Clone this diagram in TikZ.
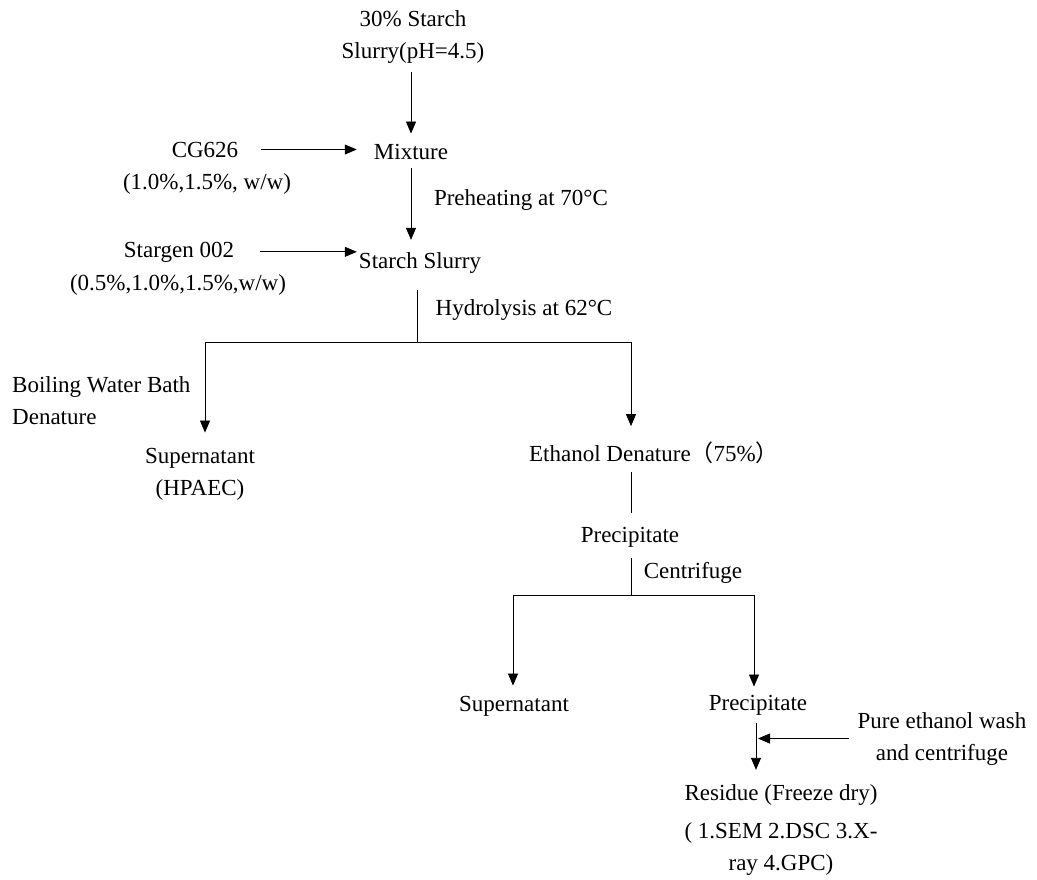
\documentclass[tikz,border=0pt]{standalone}
\usepackage{fontspec}
\setmainfont{Liberation Serif}
\newfontfamily\cjk{Noto Sans CJK SC}
\usetikzlibrary{arrows.meta}
\begin{document}
\begin{tikzpicture}[x=1pt,y=-1pt,
  every node/.style={font=\fontsize{23}{32}\selectfont, inner sep=0pt, align=center, anchor=base},
  line/.style={line width=0.8pt},
  arr/.style={line, -{Triangle[length=12pt,width=10pt]}}]
\useasboundingbox (0,0) rectangle (1037,879);
% nodes (base anchor = baseline of the last line)
\node (s30) at (413,58) {30\% Starch\\Slurry(pH=4.5)};
\node (mix) at (411,159) {Mixture};
\node (cg) at (205,157) {CG626};
\node (cgp) at (207,189) {(1.0\%,1.5\%, w/w)};
\node (pre) at (521,205) {Preheating at 70°C};
\node (ss) at (420,268) {Starch Slurry};
\node (sg) at (179,257) {Stargen 002};
\node (sgp) at (178,290) {(0.5\%,1.0\%,1.5\%,w/w)};
\node (hyd) at (524,315) {Hydrolysis at 62°C};
\node[anchor=base west, align=left] (bw) at (12,424) {Boiling Water Bath\\Denature};
\node (sup1) at (200,495) {Supernatant\\(HPAEC)};
\node (eth) at (654,461) {Ethanol Denature{\cjk （}75\%{\cjk ）}};
\node (prec) at (630,542) {Precipitate};
\node (cen) at (693,578) {Centrifuge};
\node (sup2) at (514,711) {Supernatant};
\node (prec2) at (758,710) {Precipitate};
\node (wash) at (942,760) {Pure ethanol wash\\and centrifuge};
\node (res) at (781,800) {Residue (Freeze dry)};
\node (resn) at (781,870) {( 1.SEM 2.DSC 3.X-\\ray 4.GPC)};
% branch coordinates
\coordinate (b1) at (417,342);
\coordinate (b1l) at (205,342);
\coordinate (b1r) at (631,342);
\coordinate (b2) at (631,595);
\coordinate (b2l) at (513,595);
\coordinate (b2r) at (754,595);
% connectors
\draw[arr, shorten <=9pt, shorten >=10pt] (s30.south -| mix.north) -- (mix.north);
\draw[arr, shorten <=23pt, shorten >=17pt] (cg.east) -- (cg.east -| mix.west);
\draw[arr, shorten <=9pt, shorten >=12pt] (mix.south) -- (mix.south |- ss.north);
\draw[arr, shorten <=26pt, shorten >=2pt] (sg.east) -- (sg.east -| ss.west);
\draw[line, shorten <=17pt] (b1 |- ss.south) -- (b1);
\draw[line] (b1l) -- (b1r);
\draw[arr, shorten >=15pt] (b1l) -- (b1l |- sup1.north);
\draw[arr, shorten >=15pt] (b1r) -- (b1r |- eth.north);
\draw[line, shorten <=9pt, shorten >=14pt] (b1r |- eth.south) -- (b1r |- prec.north);
\draw[line, shorten <=11pt] (b2 |- prec.south) -- (b2);
\draw[line] (b2l) -- (b2r);
\draw[arr, shorten >=10pt] (b2l) -- (b2l |- sup2.north);
\draw[arr, shorten >=8pt] (b2r) -- (b2r |- prec2.north);
\draw[arr, shorten <=8pt, shorten >=14pt] (prec2.south -| 756,0) coordinate (v1) -- (v1 |- res.north);
\draw[arr, shorten <=8pt, shorten >=2pt] (wash.west) -- (wash.west -| v1);
\end{tikzpicture}
\end{document}
